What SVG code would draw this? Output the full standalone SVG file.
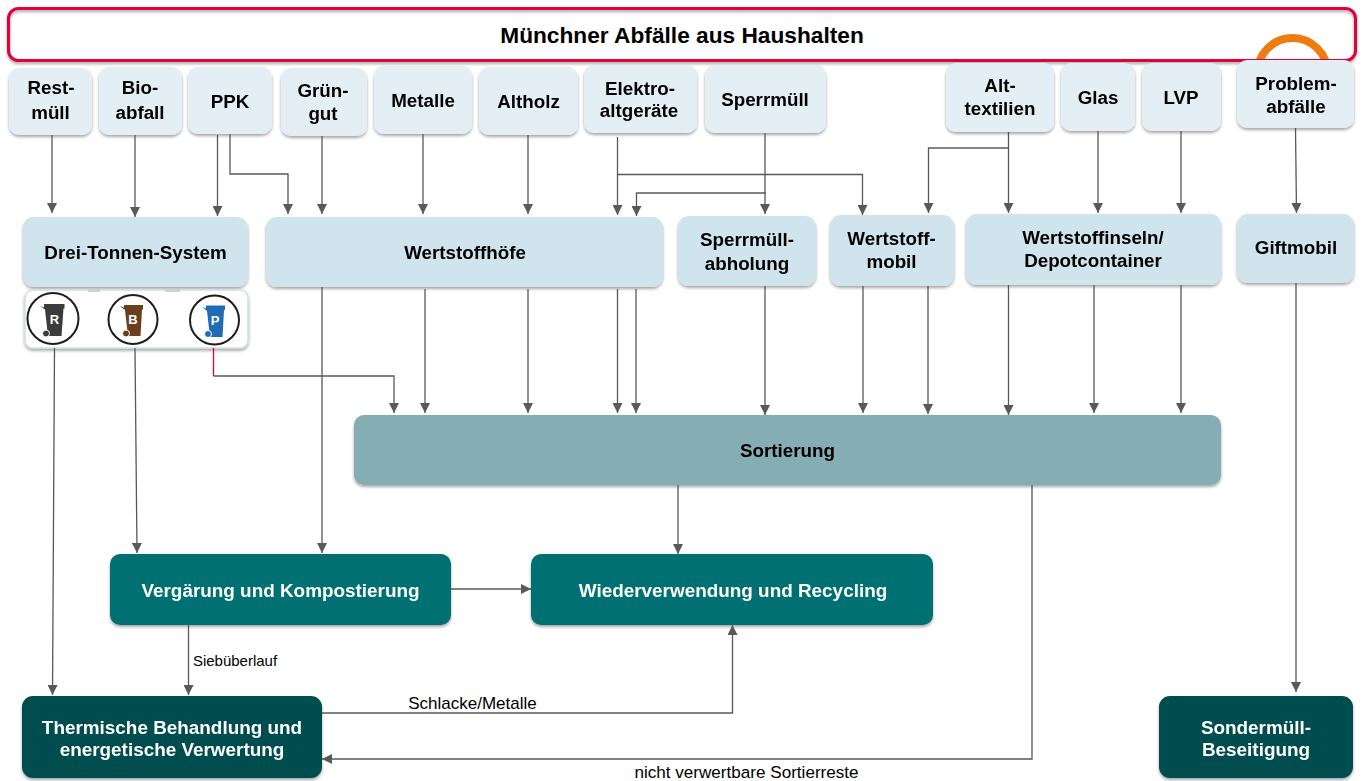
<svg xmlns="http://www.w3.org/2000/svg" width="1362" height="781" viewBox="0 0 1362 781">
<style>
text{font-family:"Liberation Sans",Arial,sans-serif;font-weight:bold;text-anchor:middle}
.t{font-size:18.8px;fill:#000}
.w{font-size:18.9px;fill:#fff}
.a{fill:#e4eff5}
.b{fill:#cfe4ed}
.s{fill:#85adb4}
.g{fill:#006f72}
.d{fill:#004d50}
.n{filter:url(#sh)}
.c path{fill:none;stroke:#595959;stroke-width:1.3}
.l{font-weight:normal;fill:#000}
.ic{font-size:13px;fill:#fff}
</style>
<defs>
<filter id="sh" x="-10%" y="-10%" width="120%" height="125%"><feDropShadow dx="0" dy="2" stdDeviation="1.5" flood-color="#000" flood-opacity="0.35"/></filter>
<marker id="ar" markerUnits="userSpaceOnUse" markerWidth="11" markerHeight="10" refX="10" refY="5" orient="auto"><path d="M0 0L10 5L0 10z" fill="#595959"/></marker>
</defs>
<circle cx="1292.5" cy="73" r="35" fill="none" stroke="#ee7d11" stroke-width="8"/>
<g id="top"><rect x="8.500" y="8.500" width="1347" height="52" rx="10" fill="#fff" fill-opacity="0" stroke="#e4003a" stroke-width="3" filter="url(#sh)"/><text x="682" y="43" style="font-size:22.7px">Münchner Abfälle aus Haushalten</text></g>
<g id="restmuell" class="n"><rect class="a" x="9" y="68" width="83" height="67" rx="10"/><text class="t" x="51" y="94">Rest-</text><text class="t" x="50.500" y="119">müll</text></g>
<g id="bioabfall" class="n"><rect class="a" x="99" y="67" width="83" height="68" rx="10"/><text class="t" x="140" y="94">Bio-</text><text class="t" x="140" y="119">abfall</text></g>
<g id="ppk" class="n"><rect class="a" x="188" y="67" width="84" height="67" rx="10"/><text class="t" x="230" y="108">PPK</text></g>
<g id="gruengut" class="n"><rect class="a" x="281" y="68" width="86" height="68" rx="10"/><text class="t" x="323" y="97">Grün-</text><text class="t" x="323" y="120">gut</text></g>
<g id="metalle" class="n"><rect class="a" x="374" y="66" width="98" height="68" rx="10"/><text class="t" x="423" y="107">Metalle</text></g>
<g id="altholz" class="n"><rect class="a" x="479" y="67" width="99" height="68" rx="10"/><text class="t" x="528.500" y="108">Altholz</text></g>
<g id="elektro" class="n"><rect class="a" x="584" y="65" width="113" height="68" rx="10"/><text class="t" x="640" y="95">Elektro-</text><text class="t" x="639" y="117">altgeräte</text></g>
<g id="sperrmuell" class="n"><rect class="a" x="705" y="65" width="121" height="68" rx="10"/><text class="t" x="765" y="106">Sperrmüll</text></g>
<g id="alttextilien" class="n"><rect class="a" x="946" y="63" width="108" height="69" rx="10"/><text class="t" x="1000" y="92">Alt-</text><text class="t" x="1000" y="115">textilien</text></g>
<g id="glas" class="n"><rect class="a" x="1061" y="63" width="74" height="68" rx="10"/><text class="t" x="1098" y="104">Glas</text></g>
<g id="lvp" class="n"><rect class="a" x="1142" y="63" width="79" height="68" rx="10"/><text class="t" x="1181" y="104">LVP</text></g>
<g id="problem" class="n"><rect class="a" x="1237" y="60" width="117" height="68" rx="10"/><text class="t" x="1296" y="90">Problem-</text><text class="t" x="1296" y="113">abfälle</text></g>
<g id="dreitonnen" class="n"><rect class="b" x="23" y="217" width="225" height="70" rx="11"/><text class="t" x="135.500" y="259">Drei-Tonnen-System</text></g>
<g id="wertstoffhoefe" class="n"><rect class="b" x="266" y="217" width="397" height="70" rx="11"/><text class="t" x="465" y="259">Wertstoffhöfe</text></g>
<g id="sperrabholung" class="n"><rect class="b" x="678" y="216" width="138" height="70" rx="11"/><text class="t" x="747" y="246">Sperrmüll-</text><text class="t" x="747" y="270">abholung</text></g>
<g id="wertstoffmobil" class="n"><rect class="b" x="830" y="215" width="124" height="71" rx="11"/><text class="t" x="891.500" y="245">Wertstoff-</text><text class="t" x="891.500" y="268">mobil</text></g>
<g id="inseln" class="n"><rect class="b" x="966" y="214" width="255" height="71" rx="11"/><text class="t" x="1093" y="244">Wertstoffinseln/</text><text class="t" x="1093" y="267">Depotcontainer</text></g>
<g id="giftmobil" class="n"><rect class="b" x="1237" y="214" width="117" height="69" rx="11"/><text class="t" x="1296" y="254">Giftmobil</text></g>
<g id="tonnen">
<rect x="25" y="290" width="223" height="58" rx="8" fill="#fff" stroke="#cfe0e4" stroke-width="1.500" filter="url(#sh)"/>
<rect x="88" y="289" width="12" height="3" fill="#c9d3d6"/><rect x="165" y="289" width="15" height="3" fill="#c9d3d6"/>
<g id="tonne-r"><circle cx="53" cy="318.500" r="25.500" fill="#fff" stroke="#1d1d1b" stroke-width="2"/><path d="M40 306L44 307.500V304H64.500V308.500H63.500L61.500 336H48L45 309.500z" fill="#3c3c3c"/><circle cx="46" cy="333.500" r="3.500" fill="#3c3c3c" stroke="#fff"/><text class="ic" x="54.500" y="323.500">R</text></g>
<g id="tonne-b"><circle cx="133" cy="319.500" r="24.500" fill="#fff" stroke="#1d1d1b" stroke-width="2"/><path d="M120 306L124 307.500V305H143V309.500H142L140.500 336H128L125 310z" fill="#6b3f1d"/><circle cx="126" cy="333.500" r="3.500" fill="#6b3f1d" stroke="#fff"/><text class="ic" x="133" y="324">B</text></g>
<g id="tonne-p"><circle cx="214.500" cy="320" r="24.500" fill="#fff" stroke="#1d1d1b" stroke-width="2"/><path d="M202 307L206 308.500V305.500H225V310H224L222.500 337H210L207 311z" fill="#1f6cb5"/><circle cx="208" cy="334" r="3.500" fill="#1f6cb5" stroke="#fff"/><text class="ic" x="215" y="325">P</text></g>
</g>
<g id="sortierung" class="n"><rect class="s" x="354" y="415" width="867" height="70" rx="10"/><text class="t" x="787.500" y="457">Sortierung</text></g>
<g id="vergaerung" class="n"><rect class="g" x="110" y="554" width="341" height="71" rx="10"/><text class="w" x="280.500" y="597">Vergärung und Kompostierung</text></g>
<g id="recycling" class="n"><rect class="g" x="531" y="554" width="402" height="71" rx="10"/><text class="w" x="733" y="597">Wiederverwendung und Recycling</text></g>
<g id="thermisch" class="n"><rect class="d" x="22" y="696" width="300" height="82" rx="11"/><text class="w" x="172" y="734">Thermische Behandlung und</text><text class="w" x="172" y="756">energetische Verwertung</text></g>
<g id="sondermuell" class="n"><rect class="d" x="1159" y="696" width="194" height="82" rx="11"/><text class="w" x="1256" y="734">Sondermüll-</text><text class="w" x="1256" y="756">Beseitigung</text></g>
<g id="connectors" class="c">
<path marker-end="url(#ar)" d="M52 135V213"/>
<path marker-end="url(#ar)" d="M135 135V217"/>
<path marker-end="url(#ar)" d="M217.500 135V216"/>
<path marker-end="url(#ar)" d="M230 134V174H288V214"/>
<path marker-end="url(#ar)" d="M322 136V214"/>
<path marker-end="url(#ar)" d="M423 134V214"/>
<path marker-end="url(#ar)" d="M528 135V214"/>
<path marker-end="url(#ar)" d="M617.500 137V215"/>
<path marker-end="url(#ar)" d="M617.500 174.500H862.500V215"/>
<path marker-end="url(#ar)" d="M765 133V214"/>
<path marker-end="url(#ar)" d="M766 193H636.500V216"/>
<path marker-end="url(#ar)" d="M1008.500 132V213"/>
<path marker-end="url(#ar)" d="M1008.500 148H928.500V213"/>
<path marker-end="url(#ar)" d="M1098 131V213"/>
<path marker-end="url(#ar)" d="M1181 131V213"/>
<path marker-end="url(#ar)" d="M1295.500 128L1296.500 213"/>
<path marker-end="url(#ar)" d="M54.500 348L52.500 695"/>
<path marker-end="url(#ar)" d="M135 348L137 553"/>
<path d="M213.500 348V376" style="stroke:#e4003a"/>
<path marker-end="url(#ar)" d="M213.500 376H394V413"/>
<path marker-end="url(#ar)" d="M322 287V553"/>
<path marker-end="url(#ar)" d="M425 289V413"/>
<path marker-end="url(#ar)" d="M528 289V413"/>
<path marker-end="url(#ar)" d="M617.500 289V413"/>
<path marker-end="url(#ar)" d="M636 289V413"/>
<path marker-end="url(#ar)" d="M765 286V415"/>
<path marker-end="url(#ar)" d="M863 286V413"/>
<path marker-end="url(#ar)" d="M928 286V414"/>
<path marker-end="url(#ar)" d="M1008.500 285V415"/>
<path marker-end="url(#ar)" d="M1094 285V413"/>
<path marker-end="url(#ar)" d="M1181 285V413"/>
<path marker-end="url(#ar)" d="M1296 283V692"/>
<path marker-end="url(#ar)" d="M678 485V554"/>
<path marker-end="url(#ar)" d="M451 589H531"/>
<path marker-end="url(#ar)" d="M188.500 625V695"/>
<path marker-end="url(#ar)" d="M322 713H732.500V625"/>
<path marker-end="url(#ar)" d="M1032 485V759H322"/>
</g>
<text class="l" x="235" y="666" style="font-size:15px">Siebüberlauf</text>
<text class="l" x="472.500" y="709" style="font-size:17px">Schlacke/Metalle</text>
<text class="l" x="746.500" y="778" style="font-size:17.1px">nicht verwertbare Sortierreste</text>
</svg>
